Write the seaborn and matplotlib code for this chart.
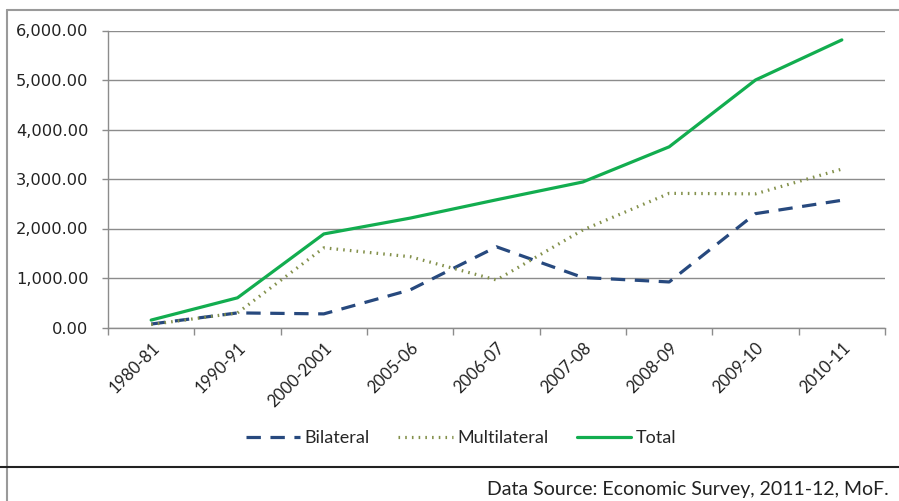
import matplotlib
matplotlib.use("Agg")
import matplotlib.pyplot as plt
import matplotlib.ticker as mticker
import matplotlib.transforms as mtransforms
from matplotlib.lines import Line2D
import seaborn as sns
import pandas as pd

years = ["1980-81", "1990-91", "2000-2001", "2005-06", "2006-07",
         "2007-08", "2008-09", "2009-10", "2010-11"]
bilateral = [70, 295, 275, 760, 1630, 1010, 920, 2300, 2570]
multilateral = [60, 295, 1610, 1430, 960, 1970, 2710, 2700, 3200]
total = [150, 600, 1890, 2210, 2580, 2940, 3650, 5000, 5810]
series_names = ["Bilateral", "Multilateral", "Total"]
y_ticks = [0, 1000, 2000, 3000, 4000, 5000, 6000]

rows = []
for name, vals in zip(series_names, [bilateral, multilateral, total]):
    for i, (yr, v) in enumerate(zip(years, vals)):
        rows.append({"idx": i, "year": yr, "value": v, "series": name})
df = pd.DataFrame(rows)

sns.set_theme(style="white")
plt.rcParams["font.family"] = ["DejaVu Sans"]

fig = plt.figure(figsize=(8.99, 5.01), dpi=100)
ax = fig.add_axes([108 / 899, 1 - 327.5 / 501, (885 - 108) / 899, (327.5 - 30.5) / 501])

palette = {"Bilateral": "#27497e", "Multilateral": "#84914c", "Total": "#12ad4f"}
dashes = {"Bilateral": (4.5, 3.0), "Multilateral": (0.5, 1.6), "Total": ""}

sns.lineplot(data=df, x="idx", y="value", hue="series", style="series",
             palette=palette, dashes=dashes, linewidth=2.3, sort=False,
             ax=ax, legend=False)

ax.set_xlim(-0.5, len(years) - 0.5)
ax.set_ylim(0, 6000)
ax.set_yticks(y_ticks)
ax.yaxis.set_major_formatter(mticker.FuncFormatter(lambda v, p: f"{v:,.2f}"))
ax.set_xticks(range(len(years)))
ax.set_xticklabels(years, rotation=45, ha="right", rotation_mode="anchor",
                   fontsize=12, color="#222222", family=["Lato", "DejaVu Sans"])
offset = mtransforms.ScaledTranslation(7 / 100, 0, fig.dpi_scale_trans)
for lbl in ax.get_xticklabels():
    lbl.set_transform(lbl.get_transform() + offset)
ax.set_xticks([i - 0.5 for i in range(len(years) + 1)], minor=True)
ax.tick_params(axis="x", which="major", length=0, pad=9)
ax.tick_params(axis="x", which="minor", length=5, width=1, color="#8c8c8c", direction="out", bottom=True)
ax.tick_params(axis="y", length=4, width=1, color="#8c8c8c", direction="out", left=True,
               labelsize=11.7, labelcolor="#222222", pad=10)
ax.set_xlabel("")
ax.set_ylabel("")
ax.grid(axis="y", color="#8c8c8c", linewidth=1)
ax.set_axisbelow(True)
for s in ["top", "right"]:
    ax.spines[s].set_visible(False)
for s in ["left", "bottom"]:
    ax.spines[s].set_color("#8c8c8c")
    ax.spines[s].set_linewidth(1)

handles = [
    Line2D([], [], color=palette["Bilateral"], linewidth=2.3, linestyle=(0, (4.5, 3.0))),
    Line2D([], [], color=palette["Multilateral"], linewidth=2.3, linestyle=(0, (0.5, 1.6))),
    Line2D([], [], color=palette["Total"], linewidth=2.3),
]
fig.legend(handles, series_names, loc="center", bbox_to_anchor=(461 / 899, 1 - 438 / 501),
           ncol=3, frameon=False, handlelength=3.0, columnspacing=1.6, handletextpad=0.25,
           prop={"family": ["Lato", "DejaVu Sans"], "size": 13})

# outer frame
fig.add_artist(Line2D([7 / 899, 7 / 899], [0, 1 - 10 / 501], color="#9a9a9a", linewidth=1.5, transform=fig.transFigure))
fig.add_artist(Line2D([7 / 899, 1], [1 - 10 / 501, 1 - 10 / 501], color="#9a9a9a", linewidth=1.5, transform=fig.transFigure))
fig.add_artist(Line2D([0, 1], [1 - 467 / 501, 1 - 467 / 501], color="#222222", linewidth=1.5, transform=fig.transFigure))

fig.text(889 / 899, 1 - 489 / 501, "Data Source: Economic Survey, 2011-12, MoF.",
         ha="right", va="center", fontsize=14, color="#222222", family=["Lato", "DejaVu Sans"])

fig.savefig("out.png", dpi=100, facecolor="white")
